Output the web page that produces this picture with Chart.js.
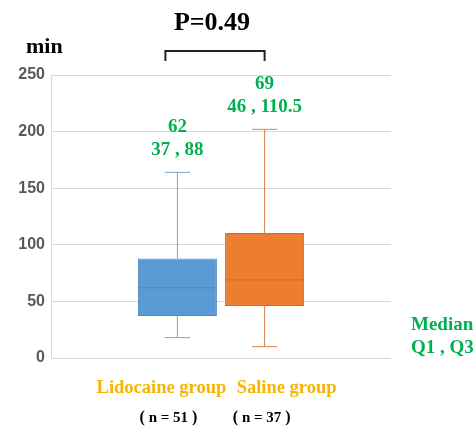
<!DOCTYPE html>
<html>
<head>
<meta charset="utf-8">
<script src="https://cdn.jsdelivr.net/npm/chart.js@4"></script>
<style>
  html, body { margin: 0; padding: 0; background: #fff; }
  #wrap { width: 476px; height: 430px; }
</style>
</head>
<body>
<div id="wrap"><canvas id="boxChart"></canvas></div>
<script>
// data
const groups = ["Lidocaine group", "Saline group"];
const sampleSizes = [51, 37];
const mins = [18, 10];
const q1s = [37, 46];
const medians = [62, 69];
const q3s = [88, 110.5];
const maxs = [164, 202];
const pValue = "P=0.49";

const fillColors = ["#5B9BD5", "#ED7D31"];
const edgeColors = ["#4A86C0", "#D96A20"];
const whiskerColors = ["#7FA3CC", "#D9804A"];

const serif = "'Liberation Serif', 'Times New Roman', serif";

// "（n = 51）" : wide brackets round bold serif text, centred on x
function drawSampleSize(c, text, x, yPos) {
    const cell = 13;
    c.font = "bold 15px " + serif;
    const wm = c.measureText(text).width;
    const start = x - (cell * 2 + wm) / 2;
    c.textAlign = "center";
    c.font = "bold 16px " + serif;
    c.fillText("(", start + cell / 2, yPos);
    c.fillText(")", start + cell * 1.5 + wm, yPos);
    c.textAlign = "left";
    c.font = "bold 15px " + serif;
    c.fillText(text, start + cell, yPos);
}

// draws whiskers, median lines and all the annotation text
const boxExtras = {
    id: "boxExtras",
    afterDatasetsDraw(chart) {
        const c = chart.ctx;
        const y = chart.scales.y;
        chart.data.datasets.forEach((ds, i) => {
            const bar = chart.getDatasetMeta(i).data[0];
            const half = bar.width / 2;
            const cap = bar.width * 0.16;
            c.save();
            c.strokeStyle = whiskerColors[i];
            c.lineWidth = 1;
            c.beginPath();
            c.moveTo(bar.x, y.getPixelForValue(q3s[i]));
            c.lineTo(bar.x, y.getPixelForValue(maxs[i]));
            c.moveTo(bar.x - cap, y.getPixelForValue(maxs[i]));
            c.lineTo(bar.x + cap, y.getPixelForValue(maxs[i]));
            c.moveTo(bar.x, y.getPixelForValue(q1s[i]));
            c.lineTo(bar.x, y.getPixelForValue(mins[i]));
            c.moveTo(bar.x - cap, y.getPixelForValue(mins[i]));
            c.lineTo(bar.x + cap, y.getPixelForValue(mins[i]));
            c.stroke();
            // median
            c.strokeStyle = edgeColors[i];
            c.beginPath();
            c.moveTo(bar.x - half, y.getPixelForValue(medians[i]));
            c.lineTo(bar.x + half, y.getPixelForValue(medians[i]));
            c.stroke();
            c.restore();
        });
    },
    afterDraw(chart) {
        const c = chart.ctx;
        const y = chart.scales.y;
        const area = chart.chartArea;
        const b0 = chart.getDatasetMeta(0).data[0];
        const b1 = chart.getDatasetMeta(1).data[0];
        c.save();
        c.textAlign = "center";
        c.textBaseline = "middle";

        // median and quartiles above each whisker
        c.fillStyle = "#00B050";
        c.font = "bold 19px " + serif;
        [b0, b1].forEach((bar, i) => {
            const top = y.getPixelForValue(maxs[i]);
            c.fillText(String(medians[i]), bar.x, top - 45);
            c.fillText(q1s[i] + " , " + q3s[i], bar.x, top - 22);
        });

        // legend text at right
        c.textAlign = "left";
        c.fillText("Median", area.right + 20, 325);
        c.fillText("Q1 , Q3", area.right + 20, 348);

        // group names
        c.textAlign = "center";
        c.fillStyle = "#F7B500";
        c.font = "bold 18.5px " + serif;
        c.fillText(groups[0], b0.x - 16, 388);
        c.fillText(groups[1], b1.x + 22, 388);

        // sample sizes
        c.fillStyle = "#000";
        drawSampleSize(c, "n = " + sampleSizes[0], b0.x - 9, 418);
        drawSampleSize(c, "n = " + sampleSizes[1], b1.x - 3, 418);

        // significance bracket
        const left = b0.x - 12, right = b1.x;
        c.strokeStyle = "#222";
        c.lineWidth = 2;
        c.beginPath();
        c.moveTo(left, 61);
        c.lineTo(left, 51);
        c.lineTo(right, 51);
        c.lineTo(right, 61);
        c.stroke();

        c.textAlign = "center";
        c.font = "bold 26px " + serif;
        c.fillText(pValue, (left + right) / 2 - 3, 23);

        // unit label
        c.textAlign = "left";
        c.font = "bold 22px " + serif;
        c.fillText("min", 26, 47);
        c.restore();
    }
};

const ctx = document.getElementById("boxChart").getContext("2d");
const boxChart = new Chart(ctx, {
    type: "bar",
    data: {
        labels: [""],
        datasets: groups.map((g, i) => ({
            label: g,
            data: [[q1s[i], q3s[i]]],
            backgroundColor: fillColors[i],
            borderColor: edgeColors[i],
            borderWidth: 1,
            borderSkipped: false,
            categoryPercentage: 0.513,
            barPercentage: 0.906,
        })),
    },
    options: {
        responsive: true,
        maintainAspectRatio: false,
        animation: false,
        layout: { padding: { top: 75, right: 85, bottom: 72, left: 0 } },
        plugins: {
            legend: { display: false },
            tooltip: { enabled: false },
        },
        scales: {
            x: { display: false },
            y: {
                min: 0,
                max: 250,
                ticks: {
                    stepSize: 50,
                    padding: 6,
                    color: "#595959",
                    font: { family: "'Liberation Sans', Arial, sans-serif", size: 16, weight: "bold" },
                },
                grid: { color: "#D9D9D9", drawTicks: false },
                border: { display: true, color: "#D9D9D9" },
                afterFit: (axis) => { axis.width = 51; },
            },
        },
    },
    plugins: [boxExtras],
});
</script>
</body>
</html>
